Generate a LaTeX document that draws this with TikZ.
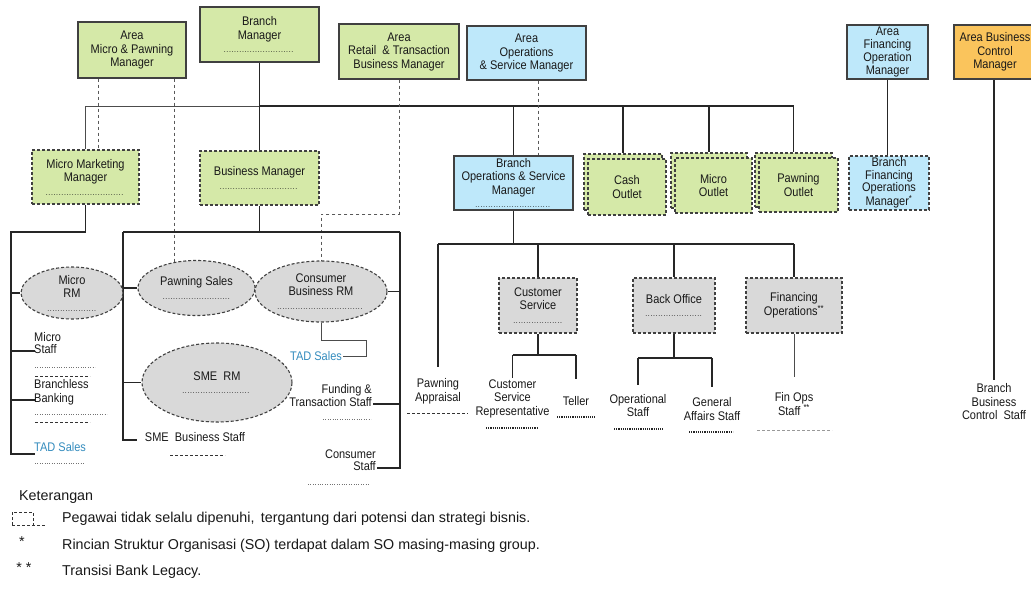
\documentclass[tikz,border=0pt]{standalone}
\usepackage{fontspec}
\setmainfont{Liberation Sans}[FakeStretch=0.88]
\newfontfamily\legfont{Liberation Sans}
\usetikzlibrary{shapes.geometric,calc}
\pgfdeclarelayer{bg}
\pgfsetlayers{bg,main}
\definecolor{gfill}{RGB}{213,233,168}
\definecolor{bfill}{RGB}{190,232,250}
\definecolor{ofill}{RGB}{250,196,92}
\definecolor{grfill}{RGB}{217,217,217}
\definecolor{edge}{RGB}{64,64,64}
\definecolor{tad}{RGB}{52,140,190}
\newcommand{\dotrow}[1]{{\fontsize{8}{8}\selectfont\makebox[#1]{\leaders\hbox to 2.6pt{\hss.\hss}\hfill}}}
\begin{document}
\begin{tikzpicture}[x=1pt,y=-1pt,
  font=\fontsize{12.5}{13.5}\selectfont,
  every node/.style={text=black!90},
  bx/.style={rectangle, draw=edge, line width=1.1pt, align=center, inner sep=0pt},
  solidbx/.style={bx},
  dashbx/.style={bx, dash pattern=on 3pt off 2pt},
  ell/.style={ellipse, draw=edge, line width=1.1pt, dash pattern=on 3pt off 2pt, fill=grfill, inner sep=-15pt, align=center},
  lbl/.style={align=center, inner sep=1pt},
  conn/.style={draw=black!85, line width=1.3pt},
  lconn/.style={draw=black!70, line width=1pt},
  dconn/.style={draw=black!65, line width=1pt, dash pattern=on 3.5pt off 2.5pt},
  dotl/.style={draw=black!55, line width=0.9pt, dash pattern=on 0.8pt off 1.6pt},
  bdotl/.style={draw=black!85, line width=1.3pt, dash pattern=on 1.1pt off 1.1pt},
  dashl/.style={draw=black!80, line width=1pt, dash pattern=on 3pt off 2pt},
]
\useasboundingbox (0,0) rectangle (1031,603);
\begin{pgfonlayer}{bg}
\fill[white] (0,0) rectangle (1031,603);
\end{pgfonlayer}

% ---------- top row ----------
\node[solidbx, fill=gfill, minimum width=108pt, minimum height=56pt] (amp) at (132,50) {Area\\Micro \& Pawning\\Manager};
\node[solidbx, fill=gfill, minimum width=119pt, minimum height=55pt] (bm) at (259.5,34.5) {Branch\\Manager\\\dotrow{72pt}};
\node[solidbx, fill=gfill, minimum width=120pt, minimum height=55pt] (art) at (399,51.5) {Area\\Retail~ \& Transaction\\Business Manager};
\node[solidbx, fill=bfill, minimum width=119pt, minimum height=54pt] (aos) at (526.5,53) {Area\\Operations\\\& Service Manager};
\node[solidbx, fill=bfill, minimum width=81pt, minimum height=54pt, font=\fontsize{12.5}{13}\selectfont] (afo) at (887.5,52) {Area\\Financing\\Operation\\Manager};
\node[solidbx, fill=ofill, minimum width=82pt, minimum height=54pt] (abc) at (995,52) {Area Business\\Control\\Manager};

% ---------- second row ----------
\node[dashbx, fill=gfill, minimum width=107pt, minimum height=54pt] (mmm) at (85.5,177) {Micro Marketing\\Manager\\\dotrow{80pt}};
\node[dashbx, fill=gfill, minimum width=119pt, minimum height=54pt] (bsm) at (259.5,178) {Business Manager\\\dotrow{80pt}};
\node[solidbx, fill=bfill, minimum width=119pt, minimum height=54pt] (bos) at (513.5,183) {Branch\\Operations \& Service\\Manager\\\dotrow{77pt}};
\node[dashbx, fill=gfill, minimum width=78pt, minimum height=56pt] (cashb) at (623,182) {};
\node[dashbx, fill=gfill, minimum width=78pt, minimum height=56pt] (cash) at (627,187) {Cash\\Outlet};
\node[dashbx, fill=gfill, minimum width=76pt, minimum height=55pt] (mob) at (709,180.5) {};
\node[dashbx, fill=gfill, minimum width=77pt, minimum height=55pt] (mo) at (713.5,185.5) {Micro\\Outlet};
\node[dashbx, fill=gfill, minimum width=77pt, minimum height=54pt] (pob) at (793.5,180) {};
\node[dashbx, fill=gfill, minimum width=79pt, minimum height=54pt] (po) at (798.5,185) {Pawning\\Outlet};
\node[dashbx, fill=bfill, minimum width=80pt, minimum height=54pt, font=\fontsize{12.5}{12.7}\selectfont] (bfo) at (889,183) {Branch\\Financing\\Operations\\Manager\textsuperscript{*}};

% ---------- third row boxes ----------
\node[dashbx, fill=grfill, minimum width=78pt, minimum height=55pt] (cs) at (538,305.5) {Customer\\Service\\\dotrow{50pt}};
\node[dashbx, fill=grfill, minimum width=82pt, minimum height=55pt] (bo) at (674,305.5) {Back Office\\\dotrow{58pt}};
\node[dashbx, fill=grfill, minimum width=96pt, minimum height=55pt] (fo) at (794,305.5) {Financing\\Operations\textsuperscript{**}};

% ---------- ellipses ----------
\node[ell, minimum width=102pt, minimum height=52pt] (mrm) at (72,293) {Micro\\RM\\\dotrow{50pt}};
\node[ell, minimum width=117pt, minimum height=55pt] (pws) at (196.5,288) {Pawning Sales\\\dotrow{68pt}};
\node[ell, minimum width=132pt, minimum height=61pt] (cbrm) at (321,291.5) {Consumer\\Business RM\\\dotrow{88pt}};
\node[ell, minimum width=150pt, minimum height=79pt] (sme) at (217,382.5) {SME~ RM\\\dotrow{70pt}};

% ---------- text labels ----------
\node[lbl, anchor=west, align=left, font=\fontsize{12.5}{12}\selectfont] (mstaff) at (33,343) {Micro\\Staff};
\node[lbl, anchor=west, align=left, font=\fontsize{12.5}{14}\selectfont] (bbank) at (33,392) {Branchless\\Banking};
\node[lbl, anchor=west, text=tad] (tad1) at (33,447) {TAD Sales};
\node[lbl] (smebs) at (195,437) {SME~ Business Staff};
\node[lbl, anchor=east, align=right, font=\fontsize{12.5}{11.5}\selectfont] (fts) at (373,395.5) {Funding \&\\Transaction Staff};
\node[lbl, anchor=east, align=right, font=\fontsize{12.5}{12}\selectfont] (cstaff) at (377,460) {Consumer\\Staff};
\node[lbl, text=tad] (tad2) at (316,356) {TAD Sales};
\node[lbl] (pappr) at (438,391.5) {Pawning\\Appraisal};
\node[lbl] (csr) at (512.5,398.5) {Customer\\Service\\Representative};
\node[lbl] (teller) at (576,401) {Teller};
\node[lbl] (opst) at (638,405.5) {Operational\\Staff};
\node[lbl] (gas) at (712,409) {General\\Affairs Staff};
\node[lbl] (fos) at (794,404) {Fin Ops\\Staff \textsuperscript{**}};
\node[lbl] (bbcs) at (994,402) {Branch\\Business\\Control~ Staff};

% ---------- connectors ----------
\begin{pgfonlayer}{bg}
\coordinate (bus) at (0,106);
\draw[lconn] (mmm.north) |- (bus -| bm.south);
\draw[conn] (bus -| bm.south) -| (pob.north);
\draw[conn] (bm.south) -- (bsm.north);
\draw[conn] (bus -| bos.north) -- (bos.north);
\draw[conn] (bus -| cashb.north) -- (cashb.north);
\draw[conn] (bus -| mob.north) -- (mob.north);
\draw[dconn] ([xshift=-34pt]amp.south) -- ([xshift=-34pt]amp.south |- mmm.north);
\draw[dconn] ([xshift=42pt]amp.south) -- ([xshift=42pt]amp.south |- pws.center);
\coordinate (artj) at (399,214);
\draw[dconn] (art.south) -- (art.south |- artj) -| (cbrm.center);
\draw[dconn] ([xshift=11.5pt]aos.south) -- ([xshift=11.5pt]aos.south |- bos.north);
\draw[conn] (afo.south) -- (afo.south |- bfo.north);
\draw[conn, shorten >=3pt] (abc.south -| bbcs.north) -- (bbcs.north);
% left tree
\coordinate (L1) at (11,232);
\coordinate (msj) at (35,351);
\coordinate (bbj) at (35,400);
\coordinate (tadj) at (35,454);
\draw[conn] (mmm.south) |- (L1) |- (tadj);
\draw[conn] (L1 |- mrm.west) -- (mrm.west);
\draw[conn] (L1 |- msj) -- (msj);
\draw[conn] (L1 |- bbj) -- (bbj);
% business manager tree
\coordinate (M1) at (123,232);
\coordinate (R1) at (400,232);
\coordinate (smej) at (137,440);
\coordinate (ftsj) at (373,404);
\coordinate (csj) at (377,468);
\draw[conn] (bsm.south) -- (bsm.south |- M1);
\draw[conn] (M1) -- (R1);
\draw[conn] (M1) |- (smej);
\draw[conn] (M1 |- pws.west) -- (pws.west);
\draw[conn] (M1 |- sme.west) -- (sme.west);
\draw[conn] (R1) |- (csj);
\draw[conn] (R1 |- cbrm.east) -- (cbrm.east);
\draw[conn] (R1 |- ftsj) -- (ftsj);
\coordinate (cj1) at (366,340);
\draw[lconn] (cbrm.south) |- (cj1) |- (tad2.east);
% operations tree
\coordinate (B2) at (0,244);
\draw[conn] (bos.south) -- (bos.south |- B2);
\draw[conn] (B2 -| pappr.north) -- (B2 -| fo.north);
\draw[conn, shorten >=11pt] (B2 -| pappr.north) -- (pappr.north);
\draw[conn] (B2 -| cs.north) -- (cs.north);
\draw[conn] (B2 -| bo.north) -- (bo.north);
\draw[conn] (B2 -| fo.north) -- (fo.north);
\coordinate (C2) at (0,355);
\draw[conn] (cs.south) -- (cs.south |- C2);
\draw[conn] (C2 -| csr.north) -- (C2 -| teller.north);
\draw[conn] (C2 -| csr.north) -- (csr.north);
\draw[conn, shorten >=16pt] (C2 -| teller.north) -- (teller.north);
\coordinate (D2) at (0,358);
\draw[conn] (bo.south) -- (bo.south |- D2);
\draw[conn] (D2 -| opst.north) -- (D2 -| gas.north);
\draw[conn, shorten >=8pt] (D2 -| opst.north) -- (opst.north);
\draw[conn, shorten >=9pt] (D2 -| gas.north) -- (gas.north);
\draw[lconn, shorten >=14pt] (fo.south) -- (fos.north);
\end{pgfonlayer}

% ---------- placeholder lines ----------
\draw[dotl] (35,367) -- (95,367);
\draw[dashl] (35,376) -- (90,376);
\draw[dotl] (35,414) -- (107,414);
\draw[dashl] (35,422) -- (90,422);
\draw[dotl] (35,463) -- (85,463);
\draw[dashl] (170,455) -- (225,455);
\draw[dotl] (323,419) -- (371,419);
\draw[dotl] (308,484) -- (370,484);
\draw[dashl] (407,413) -- (468,413);
\draw[bdotl] (486,428) -- (537,428);
\draw[bdotl] (557,417) -- (595,417);
\draw[bdotl] (614,429) -- (663,429);
\draw[bdotl] (689,432) -- (733,432);
\draw[dashl, draw=black!40] (757,430) -- (832,430);

% ---------- legend ----------
\begin{scope}[font=\legfont\fontsize{14.3}{16}\selectfont]
\node[anchor=west, inner sep=0pt] (ket) at (19,497) {Keterangan};
\draw[dashl] (12,525) -- (12,512) -- (33,512) -- (33,525);
\draw[dashl] (12,525) -- (46,525);
\node[anchor=west, inner sep=0pt] (l1) at (62,519) {Pegawai tidak selalu dipenuhi,\, tergantung dari potensi dan strategi bisnis.};
\node[inner sep=0pt] (s1) at (22,542) {*};
\node[anchor=west, inner sep=0pt] (l2) at (62,546) {Rincian Struktur Organisasi (SO) terdapat dalam SO masing-masing group.};
\node[inner sep=0pt] (s2) at (24,568) {* *};
\node[anchor=west, inner sep=0pt] (l3) at (62,572) {Transisi Bank Legacy.};
\end{scope}
\end{tikzpicture}
\end{document}
